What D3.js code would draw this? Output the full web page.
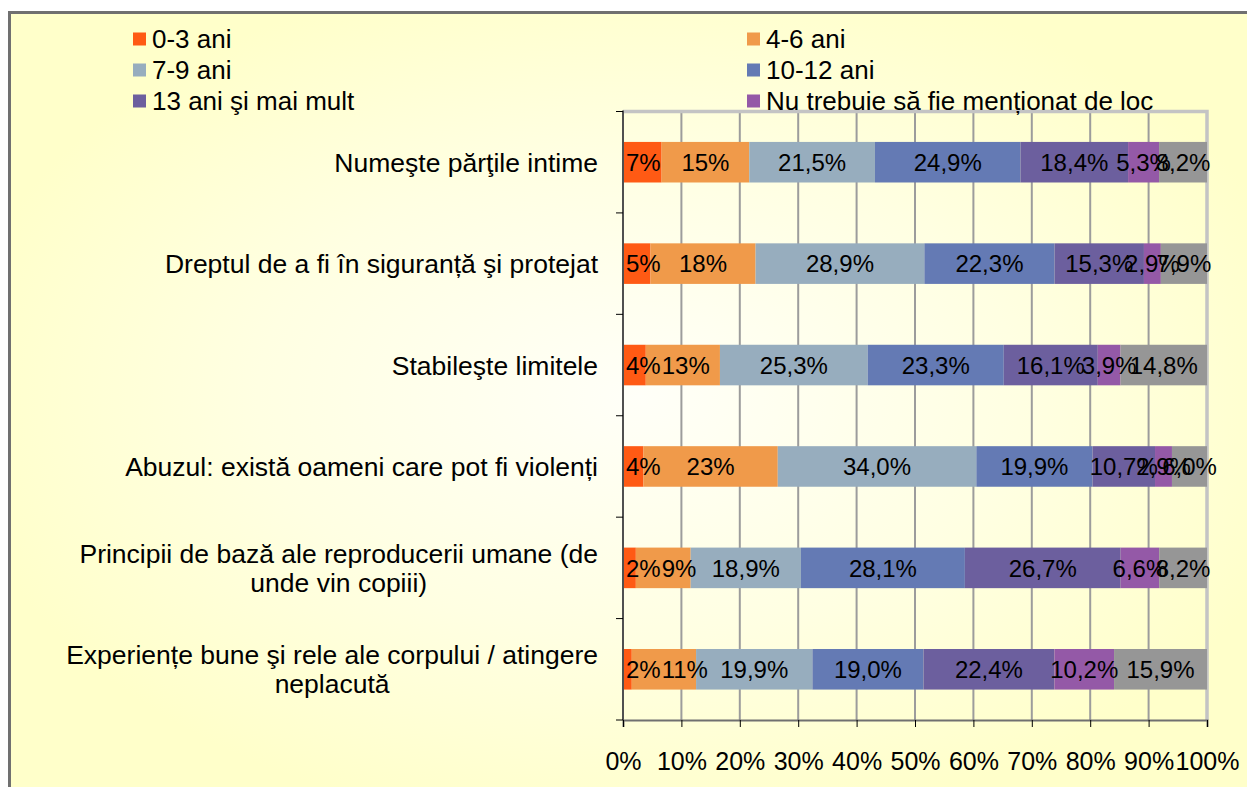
<!DOCTYPE html>
<html>
<head>
<meta charset="utf-8">
<script src="https://cdn.jsdelivr.net/npm/d3@7"></script>
<style>
  body { margin: 0; background: #ffffff; }
  text { font-family: "Liberation Sans", Arial, sans-serif; fill: #000000; }
</style>
</head>
<body>
<svg id="chart" width="1247" height="787"></svg>
<script>

// row labels, "\n" marks where the original wraps
var categories = [
    "Numeşte părţile intime",
    "Dreptul de a fi în siguranță şi protejat",
    "Stabileşte limitele",
    "Abuzul: există oameni care pot fi violenți",
    "Principii de bază ale reproducerii umane (de\nunde vin copiii)",
    "Experiențe bune şi rele ale corpului / atingere\nneplacută"
];

var seriesNames = [ "0-3 ani", "4-6 ani", "7-9 ani", "10-12 ani", "13 ani şi mai mult", "Nu trebuie să fie menționat de loc", "" ];
var seriesColors = [ "#ff5a14", "#f09a4a", "#97adbe", "#647ab4", "#6c5f9e", "#9459a7", "#969696" ];

// percent per category, one array per series
var age0to3   = [ 6.6, 4.7, 3.9, 3.5, 2.2, 1.5 ];
var age4to6   = [ 15.0, 18.0, 12.7, 23.0, 9.4, 11.0 ];
var age7to9   = [ 21.5, 28.9, 25.3, 34.0, 18.9, 19.9 ];
var age10to12 = [ 24.9, 22.3, 23.3, 19.9, 28.1, 19.0 ];
var age13up   = [ 18.4, 15.3, 16.1, 10.7, 26.7, 22.4 ];
var notAtAll  = [ 5.3, 2.9, 3.9, 2.9, 6.6, 10.2 ];
var other     = [ 8.2, 7.9, 14.8, 6.0, 8.2, 15.9 ];

var tickValues = [ 0, 0.1, 0.2, 0.3, 0.4, 0.5, 0.6, 0.7, 0.8, 0.9, 1 ];

var allSeries = [ age0to3, age4to6, age7to9, age10to12, age13up, notAtAll, other ];

var rows = categories.map( function( c, i ) {
    var r = { cat: c };
    allSeries.forEach( function( s, k ) { r[ "s" + k ] = s[ i ]; });
    return r;
});
var keys = allSeries.map( function( s, k ) { return "s" + k; } );

var stacked = d3.stack().keys( keys ).offset( d3.stackOffsetExpand )( rows );

var svg = d3.select( "#chart" );

// background
var defs = svg.append( "defs" );
var grad = defs.append( "radialGradient" )
    .attr( "id", "bg" )
    .attr( "cx", 0.5 ).attr( "cy", 0.48 ).attr( "r", 0.55 )
    ;
grad.append( "stop" ).attr( "offset", "0" ).attr( "stop-color", "#fffff8" );
grad.append( "stop" ).attr( "offset", "0.55" ).attr( "stop-color", "#ffffe2" );
grad.append( "stop" ).attr( "offset", "1" ).attr( "stop-color", "#ffffca" );

svg.append( "rect" )
    .attr( "x", 9.5 ).attr( "y", 12.5 )
    .attr( "width", 1260 ).attr( "height", 800 )
    .attr( "fill", "url(#bg)" )
    .attr( "stroke", "#707070" )
    .attr( "stroke-width", 3 )
    ;

var plotLeft = 623, plotRight = 1207, plotTop = 111.5, plotBottom = 720;

var x = d3.scaleLinear().domain( [ 0, 1 ] ).range( [ plotLeft, plotRight ] );
var y = d3.scaleBand().domain( categories ).range( [ plotTop, plotBottom ] )
    .paddingInner( 0.6 ).paddingOuter( 0.3 );

// grid
svg.append( "g" )
  .selectAll( "line" )
  .data( tickValues.slice( 1, -1 ) )
  .join( "line" )
    .attr( "x1", function( d ) { return x( d ); } )
    .attr( "x2", function( d ) { return x( d ); } )
    .attr( "y1", plotTop ).attr( "y2", plotBottom )
    .attr( "stroke", "#9c9c9c" )
    .attr( "stroke-width", 2 )
    ;

// plot border top + right
svg.append( "path" )
    .attr( "d", "M" + plotLeft + "," + plotTop + "H" + plotRight + "V" + plotBottom )
    .attr( "fill", "none" )
    .attr( "stroke", "#c4c4c4" )
    .attr( "stroke-width", 3.5 )
    ;

// bars
var layer = svg.append( "g" )
  .selectAll( "g" )
  .data( stacked )
  .join( "g" )
    .attr( "fill", function( d, i ) { return seriesColors[ i ]; } )
    ;

layer.selectAll( "rect" )
  .data( function( d ) { return d; } )
  .join( "rect" )
    .attr( "x", function( d ) { return x( d[ 0 ] ); } )
    .attr( "width", function( d ) { return x( d[ 1 ] ) - x( d[ 0 ] ); } )
    .attr( "y", function( d ) { return y( d.data.cat ); } )
    .attr( "height", y.bandwidth() )
    ;

// value labels
var fmtLabel = function( v, k ) {
    if ( k < 2 ) { return Math.round( v ) + "%"; }
    return v.toFixed( 1 ).replace( ".", "," ) + "%";
};
var lastRight = {};   // right edge of the previous label on each row
stacked.forEach( function( s, k ) {
    svg.append( "g" )
      .selectAll( "text" )
      .data( s )
      .join( "text" )
        .text( function( d ) { return fmtLabel( d.data[ s.key ], k ); } )
        .attr( "x", function( d ) { return ( x( d[ 0 ] ) + x( d[ 1 ] ) ) / 2; } )
        .attr( "y", function( d ) { return y( d.data.cat ) + y.bandwidth() / 2; } )
        .attr( "dy", "0.36em" )
        .style( "font-size", "24px" )
        .style( "text-anchor", "middle" )
        .each( function( d ) {
            var w = this.getComputedTextLength();
            var cx = +this.getAttribute( "x" );
            // keep labels off the axis, and push the small 4-6 labels clear of the first one
            var minLeft = plotLeft + 3;
            if ( k == 1 ) { minLeft = lastRight[ d.data.cat ] + 1; }
            if ( cx - w / 2 < minLeft ) { cx = minLeft + w / 2; this.setAttribute( "x", cx ); }
            lastRight[ d.data.cat ] = cx + w / 2;
        })
        ;
});

// value axis
var xAxis = svg.append( "g" )
    .attr( "transform", "translate(0," + plotBottom + ")" )
    .call( d3.axisBottom( x ).tickValues( tickValues ).tickFormat( d3.format( ".0%" ) ).tickSize( 7 ).tickPadding( 25 ) )
    ;
xAxis.select( ".domain" ).attr( "stroke", "#707070" ).attr( "stroke-width", 2 );
xAxis.selectAll( ".tick line" ).attr( "stroke", "#000000" );
xAxis.selectAll( "text" )
    .style( "font-size", "25px" )
    .style( "font-family", "'Liberation Sans', Arial, sans-serif" )
    .attr( "fill", "#000000" )
    ;

// category axis line + ticks at band edges
var gap = ( y.step() - y.bandwidth() ) / 2;
var edges = categories.map( function( c ) { return y( c ) - gap; } ).concat( [ plotBottom ] );
svg.append( "line" )
    .attr( "x1", plotLeft ).attr( "x2", plotLeft )
    .attr( "y1", plotTop - 1 ).attr( "y2", plotBottom )
    .attr( "stroke", "#505050" )
    .attr( "stroke-width", 2 )
    ;
svg.append( "g" )
  .selectAll( "line" )
  .data( edges )
  .join( "line" )
    .attr( "x1", plotLeft - 7 ).attr( "x2", plotLeft )
    .attr( "y1", function( d ) { return d; } )
    .attr( "y2", function( d ) { return d; } )
    .attr( "stroke", "#000000" )
    ;

// category labels
var labelRight = 598, lineH = 29;
categories.forEach( function( c ) {
    var lines = c.split( "\n" );
    var cy = y( c ) + y.bandwidth() / 2;
    var g = svg.append( "g" );
    var texts = g.selectAll( "text" )
      .data( lines )
      .join( "text" )
        .text( function( d ) { return d; } )
        .attr( "y", function( d, i ) { return cy + ( i - ( lines.length - 1 ) / 2 ) * lineH; } )
        .attr( "dy", "0.36em" )
        .style( "font-size", "26.5px" )
        ;
    if ( lines.length == 1 ) {
        texts.attr( "x", labelRight ).style( "text-anchor", "end" );
    } else {
        var w = d3.max( texts.nodes(), function( n ) { return n.getComputedTextLength(); } );
        texts.attr( "x", labelRight - w / 2 ).style( "text-anchor", "middle" );
    }
});

// legend (two columns, grey series has no entry)
var legendCols = [ 133, 747 ];
var legendRows = [ 39, 70, 101 ];
var legendItems = seriesNames.slice( 0, 6 );
var leg = svg.append( "g" )
  .selectAll( "g" )
  .data( legendItems )
  .join( "g" )
    .attr( "transform", function( d, i ) {
        return "translate(" + legendCols[ i % 2 ] + "," + legendRows[ Math.floor( i / 2 ) ] + ")";
    })
    ;
leg.append( "rect" )
    .attr( "x", 0 ).attr( "y", -6.5 )
    .attr( "width", 13 ).attr( "height", 13 )
    .attr( "fill", function( d, i ) { return seriesColors[ i ]; } )
    ;
leg.append( "text" )
    .text( function( d ) { return d; } )
    .attr( "x", 19 )
    .attr( "dy", "0.36em" )
    .style( "font-size", "26px" )
    ;

</script>
</body>
</html>
